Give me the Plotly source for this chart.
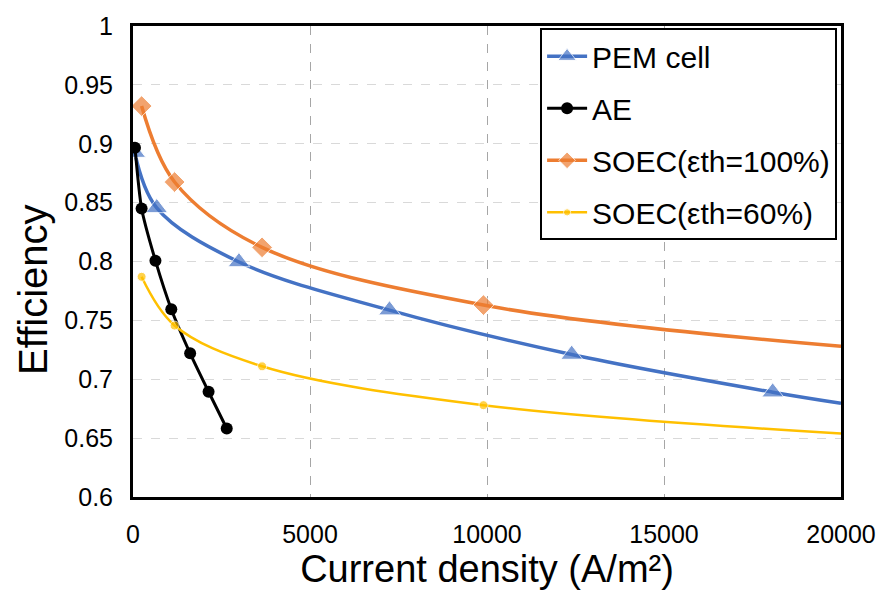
import plotly.graph_objects as go

# ---- data ----
pem_x = [50, 671, 2993, 7245, 12392, 18070, 20000]
pem_y = [0.8925, 0.8455, 0.7996, 0.7587, 0.721, 0.689, 0.6796]

ae_x = [56, 243, 634, 1082, 1614, 2135, 2648]
ae_y = [0.8967, 0.845, 0.8007, 0.7595, 0.722, 0.6894, 0.6582]

soec_x = [243, 1175, 3646, 9900, 20000]
soec100_y = [0.932, 0.8675, 0.812, 0.763, 0.728]
soec60_y = [0.787, 0.7456, 0.711, 0.678, 0.654]

x_ticks = [0, 5000, 10000, 15000, 20000]
y_ticks = [0.6, 0.65, 0.7, 0.75, 0.8, 0.85, 0.9, 0.95, 1.0]
y_tick_text = ["0.6", "0.65", "0.7", "0.75", "0.8", "0.85", "0.9", "0.95", "1"]

FONT = "Liberation Sans, Arial, sans-serif"


def sizes(n, s, last_hidden):
    out = [s] * n
    if last_hidden:
        out[-1] = 0
    return out


fig = go.Figure()

fig.add_trace(go.Scatter(
    x=pem_x, y=pem_y, name="PEM cell", mode="lines+markers",
    line=dict(color="#4472C4", width=3.5, shape="spline", smoothing=1.0),
    marker=dict(symbol="triangle-up", size=sizes(len(pem_x), 19, True), color="#4472C4"),
    legendgroup="g1"))

fig.add_trace(go.Scatter(
    x=ae_x, y=ae_y, name="AE", mode="lines+markers",
    line=dict(color="black", width=3, shape="spline", smoothing=0.6),
    marker=dict(symbol="circle", size=12, color="black"),
    legendgroup="g2"))

fig.add_trace(go.Scatter(
    x=soec_x, y=soec100_y, name="SOEC(εth=100%)", mode="lines+markers",
    line=dict(color="#ED7D31", width=3.5, shape="spline", smoothing=1.0),
    marker=dict(symbol="diamond", size=sizes(len(soec_x), 16, True), color="#ED7D31"),
    legendgroup="g3"))

fig.add_trace(go.Scatter(
    x=soec_x, y=soec60_y, name="SOEC(εth=60%)", mode="lines+markers",
    line=dict(color="#FFC000", width=2.5, shape="spline", smoothing=1.0),
    marker=dict(symbol="circle", size=sizes(len(soec_x), 9, True), color="#FFC000"),
    legendgroup="g4"))

fig.update_layout(
    width=888, height=607,
    margin=dict(l=133, r=40, t=18, b=110),
    paper_bgcolor="white", plot_bgcolor="white",
    font=dict(family=FONT, color="black", size=25),
    showlegend=True,
    legend=dict(
        x=0.575, y=0.995, xanchor="left", yanchor="top",
        bgcolor="white", bordercolor="black", borderwidth=2,
        font=dict(size=30, family=FONT, color="black"),
        itemwidth=40, tracegroupgap=10,
    ),
    xaxis=dict(
        range=[0, 20000], tickvals=x_ticks,
        ticktext=[str(v) for v in x_ticks],
        showline=True, linecolor="black", linewidth=3, mirror=True,
        showgrid=True, gridcolor="#a6a6a6", griddash="dash", gridwidth=1,
        zeroline=False, ticks="", ticklabelstandoff=13,
        tickfont=dict(size=25),
        title=dict(text="Current density (A/m²)", font=dict(size=38), standoff=5),
    ),
    yaxis=dict(
        range=[0.6, 1.0], tickvals=y_ticks, ticktext=y_tick_text,
        showline=True, linecolor="black", linewidth=3, mirror=True,
        showgrid=True, gridcolor="#d9d9d9", griddash="dash", gridwidth=1,
        zeroline=False, ticks="", ticklabelstandoff=12,
        tickfont=dict(size=25),
    ),
    annotations=[dict(
        text="Efficiency", textangle=-90, showarrow=False,
        xref="paper", yref="paper", x=-0.141, y=0.44,
        xanchor="center", yanchor="middle",
        font=dict(size=40, family=FONT, color="black"),
    )],
)

fig.write_html("out.html")
